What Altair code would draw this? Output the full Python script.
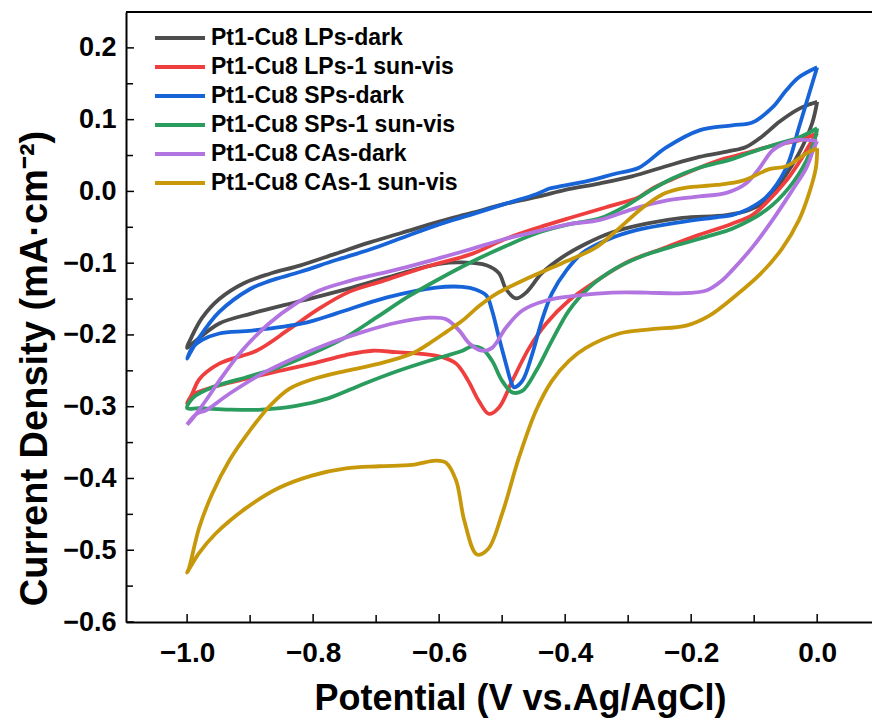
import altair as alt
import pandas as pd

# ---------------- data ----------------
series_names = [
    "Pt1-Cu8 LPs-dark",
    "Pt1-Cu8 LPs-1 sun-vis",
    "Pt1-Cu8 SPs-dark",
    "Pt1-Cu8 SPs-1 sun-vis",
    "Pt1-Cu8 CAs-dark",
    "Pt1-Cu8 CAs-1 sun-vis",
]
series_colors = ["#4d4d4d", "#ef3e3e", "#1764d8", "#2a9d5e", "#b174e0", "#c8980b"]

# LPs-dark (black)
lps_dark_x = [0.000, -0.010, -0.029, -0.060, -0.087, -0.113, -0.140, -0.187, -0.240, -0.294, -0.346, -0.400,
              -0.441, -0.494, -0.548, -0.600, -0.660, -0.710, -0.765, -0.820, -0.870, -0.910, -0.949, -0.976,
              -0.993, -1.000,
              -0.986, -0.949, -0.897, -0.817, -0.738, -0.659, -0.600, -0.563, -0.525, -0.505, -0.494, -0.478,
              -0.462, -0.437, -0.405, -0.367, -0.325, -0.271, -0.214, -0.144, -0.108, -0.081, -0.056, -0.029,
              -0.008, 0.000]
lps_dark_y = [0.125, 0.122, 0.115, 0.097, 0.077, 0.062, 0.056, 0.048, 0.035, 0.021, 0.011, 0.002,
              -0.007, -0.017, -0.030, -0.042, -0.058, -0.071, -0.087, -0.103, -0.115, -0.128, -0.150, -0.176,
              -0.203, -0.218,
              -0.208, -0.184, -0.170, -0.152, -0.134, -0.114, -0.101, -0.099, -0.103, -0.114, -0.136, -0.149,
              -0.141, -0.114, -0.092, -0.073, -0.057, -0.045, -0.037, -0.033, -0.026, -0.013, 0.015, 0.053,
              0.095, 0.125]

# LPs-1 sun-vis (red)
lps_sun_x = [0.000, -0.029, -0.071, -0.110, -0.150, -0.187, -0.230, -0.262, -0.283, -0.335, -0.389, -0.441,
             -0.494, -0.548, -0.616, -0.690, -0.743, -0.790, -0.838, -0.890, -0.949, -0.981, -0.992, -1.000,
             -0.992, -0.960, -0.906, -0.854, -0.802, -0.748, -0.706, -0.668, -0.632, -0.595, -0.573, -0.555,
             -0.537, -0.521, -0.505, -0.484, -0.457, -0.430, -0.394, -0.351, -0.298, -0.246, -0.192, -0.135,
             -0.103, -0.081, -0.049, -0.024, -0.008, 0.000]
lps_sun_y = [0.081, 0.071, 0.064, 0.054, 0.045, 0.033, 0.017, 0.004, -0.008, -0.022, -0.036, -0.050,
             -0.066, -0.087, -0.104, -0.125, -0.140, -0.163, -0.192, -0.222, -0.240, -0.262, -0.282, -0.295,
             -0.284, -0.273, -0.261, -0.250, -0.240, -0.228, -0.222, -0.224, -0.226, -0.231, -0.240, -0.262,
             -0.292, -0.310, -0.301, -0.264, -0.218, -0.184, -0.152, -0.125, -0.097, -0.080, -0.062, -0.045,
             -0.033, -0.016, 0.015, 0.047, 0.071, 0.081]

# SPs-dark (blue)
sps_dark_x = [0.000, -0.029, -0.049, -0.071, -0.103, -0.135, -0.187, -0.240, -0.283, -0.319, -0.362, -0.414,
              -0.425, -0.446, -0.494, -0.548, -0.600, -0.663, -0.710, -0.765, -0.820, -0.870, -0.900, -0.949,
              -0.981, -0.997, -1.000,
              -0.992, -0.976, -0.949, -0.897, -0.817, -0.763, -0.684, -0.605, -0.563, -0.541, -0.525, -0.516,
              -0.505, -0.494, -0.486, -0.481, -0.468, -0.452, -0.437, -0.421, -0.398, -0.373, -0.335, -0.287,
              -0.219, -0.160, -0.135, -0.108, -0.081, -0.049, -0.029, -0.008, 0.000]
sps_dark_y = [0.173, 0.159, 0.141, 0.117, 0.096, 0.092, 0.085, 0.061, 0.033, 0.025, 0.015, 0.006,
              0.004, -0.004, -0.017, -0.032, -0.046, -0.066, -0.081, -0.096, -0.112, -0.125, -0.136, -0.168,
              -0.204, -0.228, -0.233,
              -0.218, -0.207, -0.198, -0.194, -0.184, -0.170, -0.148, -0.134, -0.133, -0.137, -0.145, -0.166,
              -0.204, -0.240, -0.265, -0.273, -0.264, -0.226, -0.180, -0.142, -0.110, -0.086, -0.068, -0.054,
              -0.043, -0.036, -0.033, -0.024, -0.008, 0.033, 0.089, 0.150, 0.173]

# SPs-1 sun-vis (green)
sps_sun_x = [0.000, -0.029, -0.060, -0.103, -0.135, -0.187, -0.230, -0.267, -0.303, -0.346, -0.389, -0.441,
             -0.494, -0.548, -0.600, -0.650, -0.700, -0.750, -0.802, -0.854, -0.906, -0.960, -0.990, -1.000,
             -0.981, -0.933, -0.881, -0.827, -0.775, -0.722, -0.668, -0.616, -0.563, -0.548, -0.532, -0.516,
             -0.500, -0.484, -0.468, -0.446, -0.421, -0.394, -0.362, -0.319, -0.271, -0.219, -0.167, -0.135,
             -0.081, -0.044, -0.017, -0.003, 0.000]
sps_sun_y = [0.088, 0.075, 0.067, 0.055, 0.045, 0.033, 0.018, 0.000, -0.020, -0.038, -0.045, -0.057,
             -0.076, -0.098, -0.122, -0.147, -0.176, -0.204, -0.226, -0.245, -0.259, -0.273, -0.287, -0.302,
             -0.302, -0.304, -0.304, -0.299, -0.288, -0.269, -0.251, -0.236, -0.222, -0.216, -0.219, -0.236,
             -0.264, -0.280, -0.278, -0.250, -0.208, -0.166, -0.134, -0.107, -0.088, -0.074, -0.061, -0.052,
             -0.026, 0.006, 0.043, 0.075, 0.088]

# CAs-dark (purple)
cas_dark_x = [0.000, -0.029, -0.049, -0.071, -0.092, -0.113, -0.144, -0.187, -0.240, -0.294, -0.346, -0.389,
              -0.441, -0.494, -0.548, -0.600, -0.663, -0.743, -0.790, -0.827, -0.870, -0.913, -0.949, -0.970,
              -0.990, -1.000,
              -0.985, -0.970, -0.933, -0.881, -0.827, -0.775, -0.722, -0.668, -0.616, -0.589, -0.568, -0.552,
              -0.532, -0.516, -0.494, -0.468, -0.430, -0.378, -0.325, -0.271, -0.219, -0.176, -0.151, -0.135,
              -0.103, -0.071, -0.040, -0.017, -0.005, 0.000]
cas_dark_y = [0.070, 0.072, 0.068, 0.057, 0.032, 0.011, -0.002, -0.007, -0.013, -0.025, -0.040, -0.045,
              -0.055, -0.066, -0.080, -0.093, -0.108, -0.125, -0.138, -0.156, -0.184, -0.222, -0.264, -0.291,
              -0.315, -0.325,
              -0.310, -0.305, -0.282, -0.254, -0.231, -0.212, -0.196, -0.183, -0.176, -0.178, -0.194, -0.212,
              -0.222, -0.218, -0.190, -0.166, -0.152, -0.145, -0.141, -0.141, -0.142, -0.138, -0.124, -0.110,
              -0.078, -0.040, 0.001, 0.033, 0.061, 0.070]

# CAs-1 sun-vis (gold)
cas_sun_x = [0.000, -0.017, -0.049, -0.076, -0.118, -0.160, -0.210, -0.240, -0.262, -0.283, -0.319, -0.351,
             -0.405, -0.457, -0.510, -0.537, -0.563, -0.589, -0.616, -0.643, -0.695, -0.748, -0.802, -0.838,
             -0.870, -0.906, -0.933, -0.960, -0.981, -0.997, -1.000,
             -0.982, -0.955, -0.906, -0.854, -0.802, -0.748, -0.695, -0.643, -0.605, -0.589, -0.573, -0.560,
             -0.540, -0.522, -0.500, -0.473, -0.446, -0.421, -0.394, -0.367, -0.314, -0.262, -0.208, -0.171,
             -0.129, -0.090, -0.056, -0.029, -0.013, -0.002, 0.000]
cas_sun_y = [0.060, 0.053, 0.035, 0.031, 0.015, 0.009, 0.005, -0.002, -0.013, -0.027, -0.055, -0.078,
             -0.100, -0.120, -0.143, -0.160, -0.180, -0.196, -0.212, -0.226, -0.240, -0.250, -0.262, -0.275,
             -0.300, -0.340, -0.375, -0.421, -0.469, -0.525, -0.531,
             -0.505, -0.477, -0.441, -0.413, -0.396, -0.386, -0.383, -0.381, -0.375, -0.378, -0.403, -0.459,
             -0.506, -0.498, -0.449, -0.370, -0.305, -0.264, -0.236, -0.218, -0.198, -0.192, -0.187, -0.173,
             -0.145, -0.115, -0.080, -0.040, -0.003, 0.033, 0.060]

x_ticks = [-1.0, -0.8, -0.6, -0.4, -0.2, 0.0]
x_minor = [-0.9, -0.7, -0.5, -0.3, -0.1]
y_ticks = [-0.6, -0.5, -0.4, -0.3, -0.2, -0.1, 0.0, 0.1, 0.2]
y_minor = [-0.55, -0.45, -0.35, -0.25, -0.15, -0.05, 0.05, 0.15]

# ---------------- build tables ----------------
all_x = [lps_dark_x, lps_sun_x, sps_dark_x, sps_sun_x, cas_dark_x, cas_sun_x]
all_y = [lps_dark_y, lps_sun_y, sps_dark_y, sps_sun_y, cas_dark_y, cas_sun_y]
rows = []
for name, xs, ys in zip(series_names, all_x, all_y):
    for i, (xv, yv) in enumerate(zip(xs, ys)):
        rows.append({"series": name, "E": xv, "J": yv, "idx": i})
df = pd.DataFrame(rows)

FONT = "Liberation Sans"
W, H = 746, 610
xscale = alt.Scale(domain=[-1.097, 0.087], nice=False, zero=False)
yscale = alt.Scale(domain=[-0.6, 0.25], nice=False, zero=False)

xaxis = alt.Axis(
    values=x_ticks, format=".1f", ticks=False, grid=False,
    domainColor="black", domainWidth=2,
    labelFont=FONT, labelFontSize=28, labelFontWeight="bold", labelColor="black", labelPadding=17,
    title="Potential (V vs.Ag/AgCl)", titleFont=FONT, titleFontSize=36, titleFontWeight="bold",
    titleColor="black", titleX=394, titleY=76, titleAlign="center", titleBaseline="middle")
yaxis = alt.Axis(
    values=y_ticks, format=".1f", ticks=False, grid=False,
    domainColor="black", domainWidth=2,
    labelFont=FONT, labelFontSize=27, labelFontWeight="bold", labelColor="black", labelPadding=10,
    title="Current Density (mA·cm⁻²)", titleFont=FONT, titleFontSize=38, titleFontWeight="bold",
    titleColor="black", titleX=-91, titleY=356, titleAlign="center", titleBaseline="middle",
    titleAngle=270)

lines = alt.Chart(df).mark_line(strokeWidth=3.8, interpolate="catmull-rom").encode(
    x=alt.X("E:Q", scale=xscale, axis=xaxis),
    y=alt.Y("J:Q", scale=yscale, axis=yaxis),
    color=alt.Color("series:N", scale=alt.Scale(domain=series_names, range=series_colors),
                    legend=alt.Legend(
                        title=None, orient="none", legendX=42, legendY=14,
                        symbolType="M-2.5,0H2.5", symbolSize=400, symbolStrokeWidth=4,
                        labelFont=FONT, labelFontSize=23, labelFontWeight="bold", labelColor="black",
                        labelLimit=0, labelOffset=19, rowPadding=5, padding=0)),
    order="idx:Q",
)

frame_top = alt.Chart(pd.DataFrame({"t": [0.25]})).mark_rule(color="black", strokeWidth=2).encode(
    y=alt.Y("t:Q", scale=yscale, axis=yaxis)
)

yt = alt.Chart(pd.DataFrame({"v": y_ticks})).mark_rule(color="black", strokeWidth=1.5).encode(
    y=alt.Y("v:Q", scale=yscale, axis=yaxis), x=alt.value(0), x2=alt.value(8))
ytm = alt.Chart(pd.DataFrame({"v": y_minor})).mark_rule(color="black", strokeWidth=1.5).encode(
    y=alt.Y("v:Q", scale=yscale, axis=yaxis), x=alt.value(0), x2=alt.value(7))
xt = alt.Chart(pd.DataFrame({"v": x_ticks})).mark_rule(color="black", strokeWidth=1.5).encode(
    x=alt.X("v:Q", scale=xscale, axis=xaxis), y=alt.value(H), y2=alt.value(H - 8))
xtm = alt.Chart(pd.DataFrame({"v": x_minor})).mark_rule(color="black", strokeWidth=1.5).encode(
    x=alt.X("v:Q", scale=xscale, axis=xaxis), y=alt.value(H), y2=alt.value(H - 7))

chart = alt.layer(lines, frame_top, yt, ytm, xt, xtm).properties(
    width=W, height=H,
    autosize=alt.AutoSizeParams(type="none"),
    padding={"left": 126, "top": 12, "right": 0, "bottom": 100},
).configure_view(stroke=None).configure(background="white")

chart.save("out.html", embed_options={"renderer": "svg", "actions": False})
